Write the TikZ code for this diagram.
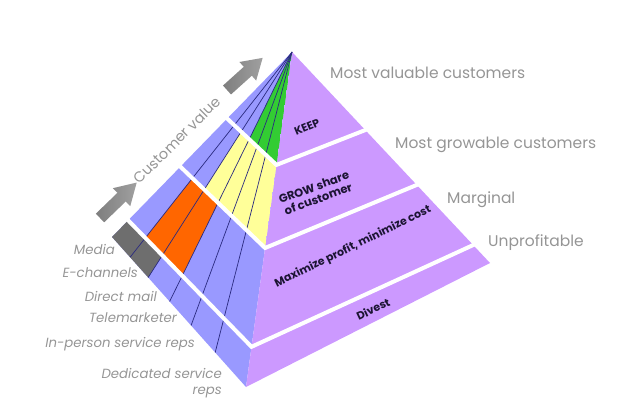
\documentclass[tikz,border=0pt]{standalone}
\usepackage{fontspec}
\setmainfont{Poppins}
\usetikzlibrary{calc}
\definecolor{faceblue}{HTML}{9999FF}
\definecolor{facepurple}{HTML}{CC99FF}
\definecolor{kgreen}{HTML}{33CC33}
\definecolor{kyellow}{HTML}{FFFF99}
\definecolor{korange}{HTML}{FF6600}
\definecolor{kgray}{HTML}{6E6E6E}
\definecolor{txtgray}{HTML}{959595}
\definecolor{darktxt}{HTML}{1C1433}
\definecolor{stripeline}{HTML}{2A2A80}
\definecolor{arrowgray}{HTML}{7E7E7E}
\definecolor{arrowlight}{HTML}{A0A0A0}
\begin{document}
\begin{tikzpicture}[x=1pt,y=-1pt,
  gap/.style={white, line width=4pt, shorten <=-3pt, shorten >=-3pt},
  stripe/.style={stripeline, line width=0.7pt},
  facetext/.style={text=darktxt, font=\bfseries\fontsize{11}{12.5}\selectfont, align=center, inner sep=0pt},
  segtext/.style={text=txtgray, font=\fontsize{15.5}{18}\selectfont, anchor=west, inner sep=0pt},
  chantext/.style={text=txtgray, font=\itshape\fontsize{13.3}{16}\selectfont, anchor=east, inner sep=0pt, align=right},
  blockarrow/.style={left color=arrowgray, right color=arrowlight}
]
\useasboundingbox (0,0) rectangle (619,406);
\coordinate (A) at (292,52);
\coordinate (L) at (112,237);
\coordinate (F) at (246,387);
\coordinate (R) at (490,263);
\coordinate (G1l) at ($(A)!0.36!(L)$);
\coordinate (G2l) at ($(A)!0.62!(L)$);
\coordinate (G3l) at ($(A)!0.91!(L)$);
\coordinate (G1f) at ($(A)!0.337!(F)$);
\coordinate (G2f) at ($(A)!0.585!(F)$);
\coordinate (G3f) at ($(A)!0.88!(F)$);
\coordinate (G1r) at ($(A)!0.37!(R)$);
\coordinate (G2r) at ($(A)!0.63!(R)$);
\coordinate (G3r) at ($(A)!0.915!(R)$);
\coordinate (B1) at ($(L)!0.135!(F)$);
\coordinate (B2) at ($(L)!0.27!(F)$);
\coordinate (B3) at ($(L)!0.43!(F)$);
\coordinate (B4) at ($(L)!0.59!(F)$);
\coordinate (B5) at ($(L)!0.77!(F)$);
% faces
\fill[faceblue] (A) -- (L) -- (F) -- cycle;
\fill[facepurple] (A) -- (F) -- (R) -- cycle;
% coloured cells
\begin{scope}
  \clip (A) -- (B3) -- (F) -- cycle;
  \fill[kgreen] (A) -- (G1l) -- (G1f) -- cycle;
\end{scope}
\begin{scope}
  \clip (A) -- (B2) -- (F) -- cycle;
  \fill[kyellow] (G1l) -- (G2l) -- (G2f) -- (G1f) -- cycle;
\end{scope}
\begin{scope}
  \clip (A) -- (B1) -- (B3) -- cycle;
  \fill[korange] (G2l) -- (G3l) -- (G3f) -- (G2f) -- cycle;
\end{scope}
\begin{scope}
  \clip (A) -- (L) -- (B2) -- cycle;
  \fill[kgray] (G3l) -- (L) -- (F) -- (G3f) -- cycle;
\end{scope}
% stripes
\foreach \b in {B1,B2,B3,B4,B5} \draw[stripe] (A) -- (\b);
% gaps
\draw[gap] (G1l) -- (G1f) -- (G1r);
\draw[gap] (G2l) -- (G2f) -- (G2r);
\draw[gap] (G3l) -- (G3f) -- (G3r);
% arrows
\begin{scope}[shift={(100,218)}, rotate=44]
  \shade[blockarrow] (0,-6) -- (30,-6) -- (30,-12.5) -- (51,0) -- (30,12.5) -- (30,6) -- (0,6) -- cycle;
\end{scope}
\begin{scope}[shift={(227,90)}, rotate=42]
  \shade[blockarrow] (0,-6) -- (28,-6) -- (28,-12.5) -- (48,0) -- (28,12.5) -- (28,6) -- (0,6) -- cycle;
\end{scope}
\node[text=txtgray, font=\fontsize{14.5}{18}\selectfont, rotate=45, inner sep=0pt] (cv) at (177,140) {Customer value};
% face labels
\node[facetext, rotate=23] (keep) at (307,127) {KEEP};
\node[facetext, font=\bfseries\fontsize{11.5}{12.5}\selectfont, rotate=20] (grow) at (316,193) {GROW share\\of customer};
\node[facetext, rotate=26] (maxi) at (353,247) {Maximize profit, minimize cost};
\node[facetext, rotate=25] (divest) at (373,309) {Divest};
% segment labels
\node[segtext] (mv) at (330,73) {Most valuable customers};
\node[segtext] (mg) at (395,145) {Most growable customers};
\node[segtext] (marg) at (447,200) {Marginal};
\node[segtext] (unp) at (488,243) {Unprofitable};
% channel labels
\node[chantext] (media) at (115,250) {Media};
\node[chantext] (ech) at (138,273) {E-channels};
\node[chantext] (dm) at (157,296) {Direct mail};
\node[chantext] (tele) at (177,318) {Telemarketer};
\node[chantext] (inp) at (195,344) {In-person service reps};
\node[chantext] (ded) at (222,383) {Dedicated service\\reps};
\end{tikzpicture}
\end{document}
